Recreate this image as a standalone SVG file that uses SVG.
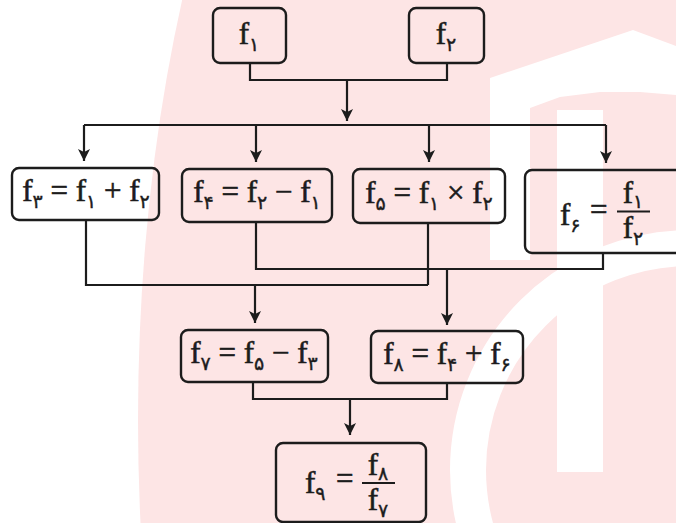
<svg xmlns="http://www.w3.org/2000/svg" width="676" height="523" viewBox="0 0 676 523">
<defs>
<style>
.box{fill:none;stroke:#1c1c1c;stroke-width:2.4}
.ln{fill:none;stroke:#1c1c1c;stroke-width:2.2}
.ar{fill:none;stroke:#1c1c1c;stroke-width:2.2;marker-end:url(#ah)}
.t{font-family:"Liberation Serif","DejaVu Serif",serif;font-size:31px;fill:#1c1c1c;stroke:#1c1c1c;stroke-width:0.6}
.s{font-family:"DejaVu Sans","Noto Sans",sans-serif;font-size:19px;stroke-width:0.4}
.fl{stroke:#1c1c1c;stroke-width:1.8}
</style>
<marker id="ah" markerWidth="13" markerHeight="12" refX="12" refY="6" orient="auto" markerUnits="userSpaceOnUse">
<path d="M0,0 L12,6 L0,12 L3,6 Z" fill="#1c1c1c"/>
</marker>
</defs>
<rect width="676" height="523" fill="#ffffff"/>
<g id="watermark">
<ellipse cx="520" cy="420" rx="382" ry="900" fill="#fde5e5"/>
<polygon fill="#ffffff" points="490,78 633,30 676,46 676,95 640,92 600,92 560,97 530,108 530,260 490,260"/>
<rect x="557" y="110" width="46" height="362" fill="#ffffff"/>
<circle cx="690" cy="470" r="222" fill="none" stroke="#ffffff" stroke-width="36"/>
</g>
<g id="connectors">
<path class="ln" d="M250,63 V80 H447 V63"/>
<path class="ar" d="M347,80 V121"/>
<path class="ln" d="M84,125 H606"/>
<path class="ar" d="M84,125 V161"/>
<path class="ar" d="M256,125 V162"/>
<path class="ar" d="M429,125 V162"/>
<path class="ar" d="M606,125 V163"/>
<path class="ln" d="M86,220 V285 H428"/>
<path class="ln" d="M428,223 V285"/>
<path class="ln" d="M256,222 V269 H603 V253"/>
<path class="ar" d="M255,285 V323"/>
<path class="ar" d="M447,269 V325"/>
<path class="ln" d="M253,382 V399 H447 V383"/>
<path class="ar" d="M350,399 V435"/>
</g>
<g id="n1">
<rect class="box" x="213" y="8" width="73" height="55" rx="7"/>
<text class="t" x="249" y="44" text-anchor="middle">f<tspan class="s" dy="7">۱</tspan></text>
</g>
<g id="n2">
<rect class="box" x="409" y="8" width="75" height="55" rx="7"/>
<text class="t" x="446" y="44" text-anchor="middle">f<tspan class="s" dy="7">۲</tspan></text>
</g>
<g id="n3">
<rect class="box" x="12" y="168" width="147" height="52" rx="7"/>
<text class="t" x="86" y="201" text-anchor="middle">f<tspan class="s" dy="7">۳</tspan><tspan dy="-7"> = f</tspan><tspan class="s" dy="7">۱</tspan><tspan dy="-7"> + f</tspan><tspan class="s" dy="7">۲</tspan></text>
</g>
<g id="n4">
<rect class="box" x="182" y="169" width="150" height="53" rx="7"/>
<text class="t" x="257" y="202" text-anchor="middle">f<tspan class="s" dy="7">۴</tspan><tspan dy="-7"> = f</tspan><tspan class="s" dy="7">۲</tspan><tspan dy="-7"> − f</tspan><tspan class="s" dy="7">۱</tspan></text>
</g>
<g id="n5">
<rect class="box" x="353" y="169" width="152" height="54" rx="7"/>
<text class="t" x="429" y="203" text-anchor="middle">f<tspan class="s" dy="7">۵</tspan><tspan dy="-7"> = f</tspan><tspan class="s" dy="7">۱</tspan><tspan dy="-7"> × f</tspan><tspan class="s" dy="7">۲</tspan></text>
</g>
<g id="n6">
<rect class="box" x="525" y="170" width="160" height="83" rx="7"/>
<text class="t" x="560" y="225">f<tspan class="s" dy="7">۶</tspan></text>
<text class="t" x="590" y="220">=</text>
<line class="fl" x1="617" y1="211.5" x2="650" y2="211.5"/>
<text class="t" x="633" y="203" text-anchor="middle">f<tspan class="s" dy="5">۱</tspan></text>
<text class="t" x="633" y="238" text-anchor="middle">f<tspan class="s" dy="7">۲</tspan></text>
</g>
<g id="n7">
<rect class="box" x="181" y="330" width="147" height="52" rx="7"/>
<text class="t" x="254" y="363" text-anchor="middle">f<tspan class="s" dy="7">۷</tspan><tspan dy="-7"> = f</tspan><tspan class="s" dy="7">۵</tspan><tspan dy="-7"> − f</tspan><tspan class="s" dy="7">۳</tspan></text>
</g>
<g id="n8">
<rect class="box" x="371" y="331" width="152" height="52" rx="7"/>
<text class="t" x="447" y="364" text-anchor="middle">f<tspan class="s" dy="7">۸</tspan><tspan dy="-7"> = f</tspan><tspan class="s" dy="7">۴</tspan><tspan dy="-7"> + f</tspan><tspan class="s" dy="7">۶</tspan></text>
</g>
<g id="n9">
<rect class="box" x="276" y="443" width="150" height="79" rx="7"/>
<text class="t" x="305" y="493">f<tspan class="s" dy="7">۹</tspan></text>
<text class="t" x="336" y="489">=</text>
<line class="fl" x1="362" y1="483" x2="395" y2="483"/>
<text class="t" x="378" y="475" text-anchor="middle">f<tspan class="s" dy="5">۸</tspan></text>
<text class="t" x="378" y="510" text-anchor="middle">f<tspan class="s" dy="7">۷</tspan></text>
</g>
</svg>
